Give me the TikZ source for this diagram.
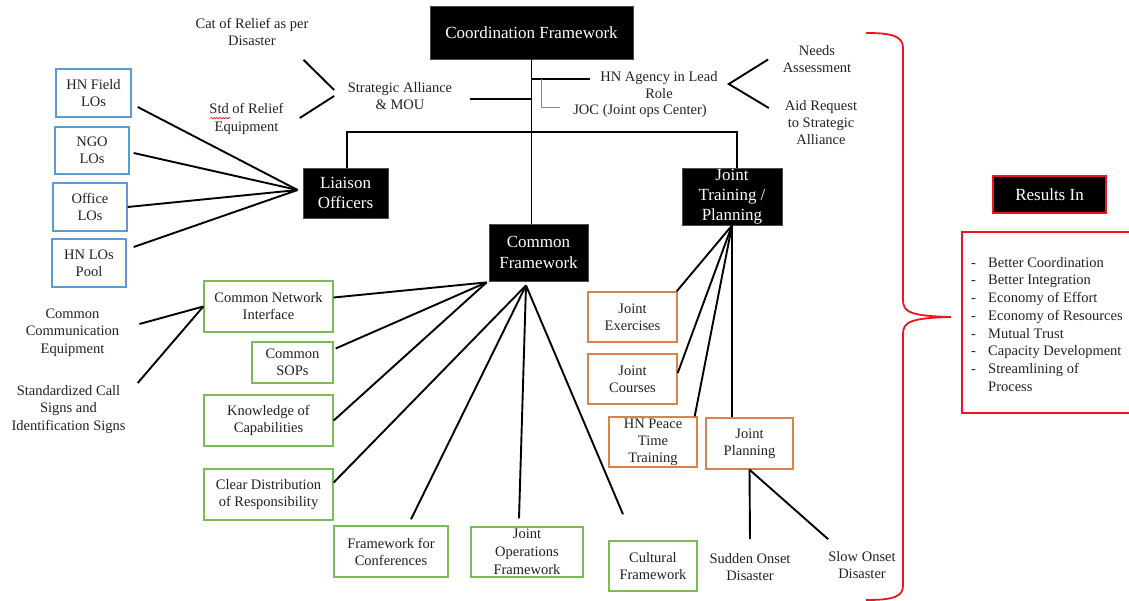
\documentclass[tikz,border=0pt]{standalone}
\usepackage{fontspec}
\setmainfont{Liberation Serif}
\usetikzlibrary{calc,decorations.pathmorphing}
\definecolor{txt}{HTML}{222222}
\definecolor{lobl}{HTML}{5B9BD5}
\definecolor{cfgr}{HTML}{7DBB55}
\definecolor{jtor}{HTML}{D9824A}
\definecolor{brred}{HTML}{F01420}
\definecolor{jocgray}{HTML}{8A8A8A}

\begin{document}
\begin{tikzpicture}[x=1pt,y=-1pt,
  every node/.style={text=txt, font=\fontsize{14.5}{17}\selectfont, align=center, inner sep=0pt},
  head/.style={fill=black, draw=black!70, line width=0.8pt, text=white, font=\fontsize{17}{20.5}\selectfont},
  lobox/.style={draw=lobl, line width=1.4pt, fill=white},
  cfbox/.style={draw=cfgr, line width=1.4pt, fill=white},
  jtbox/.style={draw=jtor, line width=1.4pt, fill=white},
  conn/.style={line width=1.9pt, black},
  sz/.style 2 args={minimum width=#1pt, minimum height=#2pt},
]
\useasboundingbox (0,0) rectangle (1129,601);

% ---------- header boxes ----------
\node[head, sz={203}{53}] (coord) at (531.5,32.5) {Coordination Framework};
\node[head, sz={85}{50}]  (lia)   at (345.5,193) {Liaison\\Officers};
\node[head, sz={99}{57}]  (comf)  at (538.5,252.5) {Common\\Framework};
\node[head, sz={100}{57}, font=\fontsize{17}{20}\selectfont] (jtp) at (732,196.5) {Joint\\Training /\\Planning};
\node[head, draw=brred, line width=1.2pt, sz={113}{37}] (res) at (1049.5,194.5) {Results In};

% ---------- free labels ----------
\node (cat)   at (252,31.5)  {Cat of Relief as per\\Disaster};
\node[font=\fontsize{14.5}{18}\selectfont] (std) at (246.5,119) {Std of Relief\\Equipment};
\node (sa)    at (400,96.5)  {Strategic Alliance\\\& MOU};
\node (hna)   at (659,85.5)  {HN Agency in Lead\\Role};
\node (joc)   at (640,111)   {JOC (Joint ops Center)};
\node (needs) at (817,59.5)  {Needs\\Assessment};
\node (aid)   at (821,123)   {Aid Request\\to Strategic\\Alliance};
\node[font=\fontsize{14.5}{17.5}\selectfont] (cce) at (72.5,332.5) {Common\\Communication\\Equipment};
\node[font=\fontsize{14.5}{17.5}\selectfont] (scs) at (68.5,409.5) {Standardized Call\\Signs and\\Identification Signs};
\node (sud)   at (750,567.5) {Sudden Onset\\Disaster};
\node (slow)  at (862,565.5) {Slow Onset\\Disaster};

% spell-check underline under "Std"
\draw[red, line width=0.6pt, decorate, decoration={snake, amplitude=0.7pt, segment length=3pt}]
  ($(std.north west)+(1,15)$) -- ++(20,0);

% ---------- liaison officers ----------
\node[lobox, sz={75}{48}] (hnf)  at (93.5,93)  {HN Field\\LOs};
\node[lobox, sz={74}{47}] (ngo)  at (92,150.5) {NGO\\LOs};
\node[lobox, sz={74}{48}] (off)  at (90,207)   {Office\\LOs};
\node[lobox, sz={74}{48}] (hnlo) at (89,263)   {HN LOs\\Pool};

% ---------- common framework items ----------
\node[cfbox, sz={129}{51}] (cni)  at (268.5,306.5) {Common Network\\Interface};
\node[cfbox, sz={81}{41}]  (sops) at (292.5,362.5) {Common\\SOPs};
\node[cfbox, sz={129}{51}] (know) at (268.5,420.5) {Knowledge of\\Capabilities};
\node[cfbox, sz={129}{51}] (cd)   at (268.5,494.5) {Clear Distribution\\of Responsibility};
\node[cfbox, sz={114}{51}] (fwc)  at (391,551.5)   {Framework for\\Conferences};
\node[cfbox, sz={112}{50}, font=\fontsize{14.5}{18}\selectfont] (jof) at (527,552) {Joint\\Operations\\Framework};
\node[cfbox, sz={88}{50}]  (cult) at (653,566)     {Cultural\\Framework};

% ---------- joint training items ----------
\node[jtbox, sz={89}{50}] (je)  at (632.5,317) {Joint\\Exercises};
\node[jtbox, sz={89}{50}] (jc)  at (632.5,379) {Joint\\Courses};
\node[jtbox, sz={88}{50}] (hnp) at (653,442)   {HN Peace\\Time\\Training};
\node[jtbox, sz={87}{51}] (jp)  at (749.5,443.5) {Joint\\Planning};

% ---------- results list ----------
\draw[brred, line width=1.2pt] (962,232) rectangle (1140,413);
\foreach \t [count=\i] in {Better Coordination, Better Integration, Economy of Effort,
    Economy of Resources, Mutual Trust, Capacity Development, Streamlining of} {
  \node[anchor=base west] (dash\i) at (971,{249.5+17.7*\i}) {-};
  \node[anchor=base west] (item\i) at (988,{249.5+17.7*\i}) {\t};
}
\node[anchor=base west] (item8) at (988,{249.5+17.7*8}) {Process};

% ---------- trunk and branches ----------
\coordinate (hnaj) at (coord.south |- {$(hna.west)+(0,-6.5)$});
\coordinate (saj)  at (coord.south |- {$(sa.east)+(0,2.5)$});
\draw[conn] (coord.south) -- (coord.south |- comf.north);
\draw[conn] (hnaj) -- ($(hna.west)+(-10,-6.5)$);
\draw[conn] (saj) -- ($(sa.east)+(18,2.5)$);
\draw[jocgray, line width=1pt] ($(hnaj)+(10,0)$) |- ($(joc.west)+(-13,-3)$);
\draw[conn] ($(lia.north)+(1.5,0)$) -- ++(0,-36) -| ($(jtp.north)+(5,0)$);

% chevrons
\draw[conn] ($(cat.south east)+(-5,14.5)$) -- ($(sa.west)+(-13.5,-6.5)$);
\draw[conn] ($(sa.west)+(-13.5,-0.5)$) -- ($(std.east)+(16,-1)$);
\draw[conn] ($(needs.west)+(-14.5,0)$) -- ($(hna.east)+(11,-1.5)$) -- ($(aid.west)+(-16,-15)$);

% liaison officer fan
\coordinate (liain) at ($(lia.west)+(-5,-3)$);
\draw[conn] ($(hnf.east)+(6,14)$)    -- (liain);
\draw[conn] ($(ngo.east)+(4,2.5)$)   -- (liain);
\draw[conn] (off.east)               -- (liain);
\draw[conn] ($(hnlo.east)+(7,-16)$)  -- (liain);

% common framework fan
\coordinate (cfL) at ($(comf.south west)+(-2,1)$);
\coordinate (cfC) at ($(comf.south)+(-12.5,4)$);
\draw[conn] (cfL) -- ($(cni.east)+(0,-9)$);
\draw[conn] (cfL) -- ($(sops.east)+(2,-14)$);
\draw[conn] (cfL) -- (know.east);
\draw[conn] (cfC) -- ($(cd.east)+(0,-12)$);
\draw[conn] (cfC) -- ($(fwc.north)+(20,-6)$);
\draw[conn] (cfC) -- ($(jof.north)+(-8,-8)$);
\draw[conn] (cfC) -- ($(cult.north)+(-30,-26)$);

% network interface inputs
\draw[conn] ($(cce.east)+(20,-8.5)$) -- (cni.west);
\draw[conn] ($(scs.east)+(12,-26.5)$) -- (cni.west);

% joint training fan
\draw[conn] (jtp.south) -- ($(je.north east)+(-1,0)$);
\draw[conn] (jtp.south) -- ($(jc.east)+(0,-6)$);
\draw[conn] (jtp.south) -- ($(hnp.north east)+(-3,0)$);
\draw[conn] (jtp.south) -- (jtp.south |- jp.north);

% joint planning split
\draw[conn] (jp.south) -- ($(sud.north)+(0,-14.5)$);
\draw[conn] (jp.south) -- ($(slow.north west)+(0,-12.5)$);

% brace towards the results
\draw[brred, line width=1.8pt]
  (866,33) .. controls (892,33) and (903,36) .. (903,48)
  -- (903,300) .. controls (903,312) and (910,316) .. (951,317)
  .. controls (910,318) and (903,322) .. (903,334)
  -- (903,586) .. controls (903,597) and (892,600) .. (866,600);
\end{tikzpicture}
\end{document}
